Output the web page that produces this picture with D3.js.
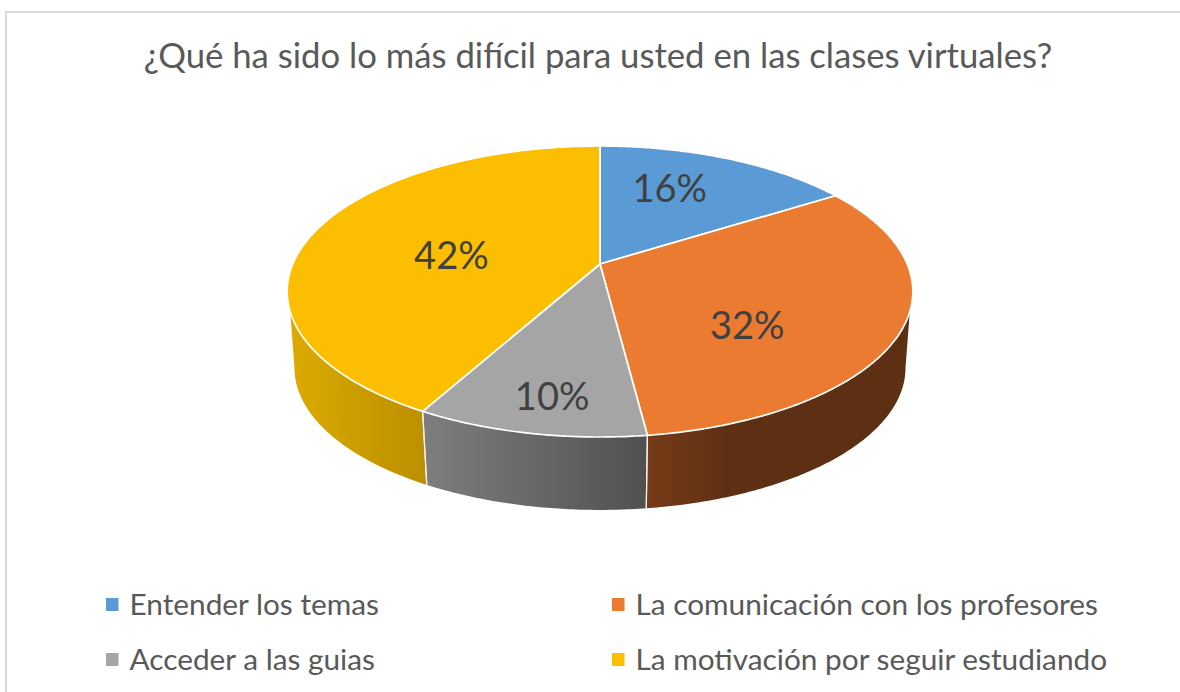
<!DOCTYPE html>
<html lang="es">
<head>
<meta charset="utf-8">
<script src="https://cdnjs.cloudflare.com/ajax/libs/d3/7.8.5/d3.min.js"></script>
<style>
html,body{margin:0;padding:0;background:#fff;overflow:hidden}
svg{display:block}
text{font-family:Lato,"Open Sans",sans-serif}
</style>
</head>
<body>
<svg id="chart" width="1180" height="692"></svg>
<script>
const titleText = "¿Qué ha sido lo más difícil para usted en las clases virtuales?";
const categories = ["Entender los temas", "La comunicación con los profesores", "Acceder a las guias", "La motivación por seguir estudiando"];
const values = [16, 32, 10, 42];
const topColors = ["#5b9bd5", "#eb7b31", "#a5a5a5", "#fbbe00"];
const wallStops = [null, ["#763b17", "#5e3013"], ["#7e7e7e", "#505050"], ["#dcaa00", "#bb8f00"]];
const labelNudges = [[-11, -8], [-28, 24], [-9, 40], [25, 12]];

const svg = d3.select("#chart");
const W = 1180, H = 692;

// frame
svg.append("path").attr("d", d3.line()([[6, H], [6, 12], [W, 12]]))
  .attr("fill", "none").attr("stroke", "#d9d9d9").attr("stroke-width", 2);

svg.append("text").attr("x", 598).attr("y", 68).attr("text-anchor", "middle")
  .attr("font-size", 34.7).attr("fill", "#595959").text(titleText);

// perspective projection of the pie disc
const persp = 0.189;
const topDisc = {cx: 600, cy: 264, a: 307.2, b: 140.3};
const botDisc = {cx: 600, cy: 341, a: 300, b: 137};
function project(disc, ang, r = 1) {
  const u = Math.sin(ang) * r, v = -Math.cos(ang) * r, w = 1 - persp * v;
  return [disc.cx + disc.a * u / w, disc.cy + disc.b * v / w];
}
function arcPts(disc, a0, a1) {
  const n = Math.max(2, Math.ceil(Math.abs(a1 - a0) / 0.01));
  return d3.range(n + 1).map(i => project(disc, a0 + (a1 - a0) * i / n));
}

const arcs = d3.pie().sort(null).value(d => d)(values);
const line = d3.line();
const defs = svg.append("defs");

// angular limits of the visible side wall (silhouette of each rim)
const topVis = [108.7, 251.3].map(d => d * Math.PI / 180);
const botVis = [100.9, 259.1].map(d => d * Math.PI / 180);

arcs.forEach((d, i) => {
  if (!wallStops[i]) return;
  const t0 = Math.max(d.startAngle, topVis[0]), t1 = Math.min(d.endAngle, topVis[1]);
  const b0 = Math.max(d.startAngle, botVis[0]), b1 = Math.min(d.endAngle, botVis[1]);
  const pts = arcPts(topDisc, t0, t1).concat(arcPts(botDisc, b1, b0));
  const xs = pts.map(p => p[0]);
  const x0 = d3.min(xs), x1 = d3.max(xs);
  const g = defs.append("linearGradient").attr("id", "wall" + i)
    .attr("gradientUnits", "userSpaceOnUse").attr("x1", x0).attr("x2", i === 1 ? x0 + 80 : x1).attr("y1", 0).attr("y2", 0);
  g.append("stop").attr("offset", 0).attr("stop-color", wallStops[i][0]);
  g.append("stop").attr("offset", 1).attr("stop-color", wallStops[i][1]);
  svg.append("path").attr("d", line(pts) + "Z").attr("fill", `url(#wall${i})`).attr("stroke", "none");
  // vertical seams between the wall sections
  [d.startAngle, d.endAngle].forEach(a => {
    if (a > topVis[0] && a < topVis[1]) {
      svg.append("path").attr("class", "seam")
        .attr("d", line([project(topDisc, a), project(botDisc, a)]))
        .attr("stroke", "#f2f2f2").attr("stroke-width", 1.2).attr("fill", "none");
    }
  });
});
svg.selectAll("path.seam").raise();

// top face
svg.selectAll("path.slice").data(arcs).join("path").attr("class", "slice")
  .attr("d", d => line([[topDisc.cx, topDisc.cy]].concat(arcPts(topDisc, d.startAngle, d.endAngle))) + "Z")
  .attr("fill", (d, i) => topColors[i])
  .attr("stroke", "#fff").attr("stroke-width", 1.7).attr("stroke-linejoin", "round");

// value labels
svg.selectAll("text.val").data(arcs).join("text").attr("class", "val")
  .attr("text-anchor", "middle").attr("font-size", 38).attr("fill", "#404040")
  .attr("transform", (d, i) => {
    const p = project(topDisc, (d.startAngle + d.endAngle) / 2, 0.6);
    return `translate(${p[0] + labelNudges[i][0]},${p[1] + labelNudges[i][1] + 13})`;
  })
  .text(d => d.value + "%");

// legend
const colX = d3.scalePoint().domain([0, 1]).range([106, 612]);
const rowY = d3.scalePoint().domain([0, 1]).range([598, 653]);
const lg = svg.selectAll("g.lg").data(categories).join("g").attr("class", "lg")
  .attr("transform", (d, i) => `translate(${colX(i % 2)},${rowY(i >> 1)})`);
lg.append("rect").attr("width", 12.5).attr("height", 13).attr("fill", (d, i) => topColors[i]);
lg.append("text").attr("x", 23.5).attr("y", 17).attr("font-size", 29.8).attr("fill", "#595959").text(d => d);
</script>
</body>
</html>
